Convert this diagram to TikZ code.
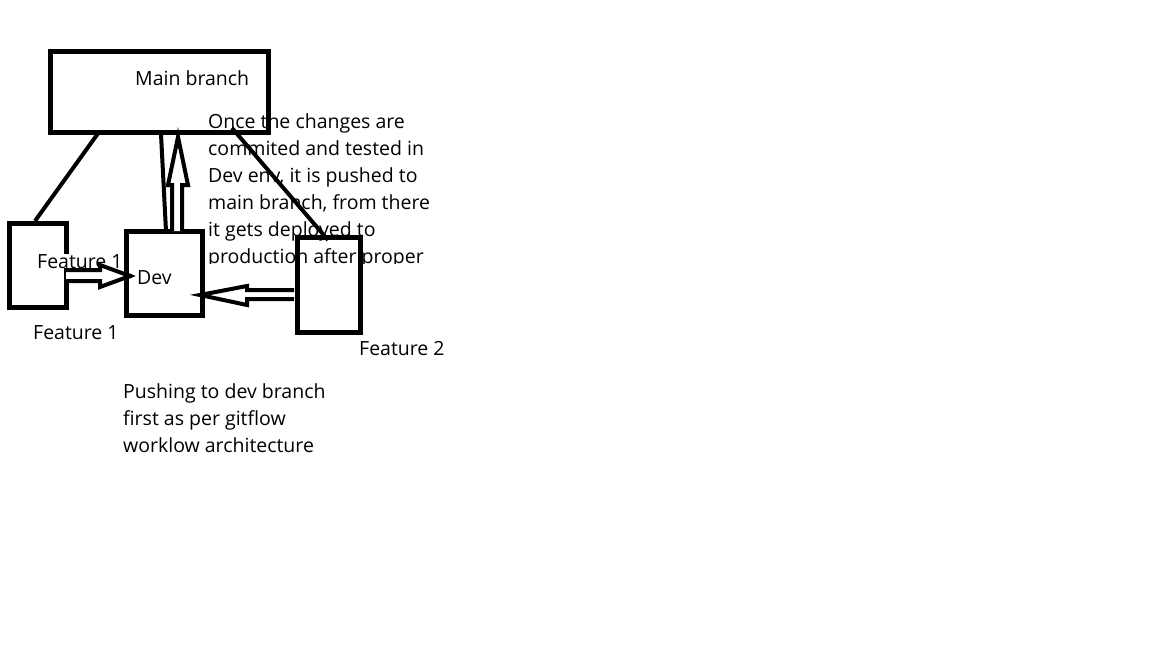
\documentclass[tikz,border=0pt]{standalone}
\usepackage{fontspec}
\setmainfont{Open Sans}
\begin{document}
\begin{tikzpicture}[x=1pt,y=-1pt,
  box/.style={draw,line width=5pt},
  link/.style={line width=4pt},
  hollow/.style={draw,line width=4pt,line join=miter,fill=white},
  txt/.style={anchor=base west,inner sep=0pt,font=\fontsize{19.5}{27}\selectfont}]
\useasboundingbox[fill=white] (0,0) rectangle (1152,648);
% boxes
\draw[box] (50,51) rectangle (268,132);
\node[txt] (mainlbl) at (135,85) {Main branch};
\coordinate (mainbl) at (99,132);
\coordinate (mainbr) at (232,128);
% paragraph (clipped)
\begin{scope}
\clip (200,100) rectangle (450,263);
\foreach \t [count=\i] in {Once the changes are,commited and tested in,{Dev env, it is pushed to},{main branch, from there},it gets deployed to,production after proper}
  \node[txt,name=p\i] at (208,101+27*\i) {\t};
\end{scope}
\draw[box] (9,223) rectangle (66,307);
\draw[box] (126,231) rectangle (202,315);
\draw[box] (297,237) rectangle (360,332);
\coordinate (f1top) at (35,221);
\coordinate (f2top) at (328,240);
\draw[link] (mainbl) -- (f1top);
\draw[link] (mainbr) -- (f2top);
% dev -> main
\coordinate (devtopl) at (166,231);
\coordinate (mainb1) at (161,134);
\draw[link] (devtopl) -- (mainb1);
\draw[hollow] (172,231) -- (172,185) -- (168,185) -- (178,137) -- (188,185) -- (182,185) -- (182,231);
% feature1 label
\node[txt,fill=white] (f1in) at (37,268) {Feature 1};
% feature1 -> dev
\draw[hollow] (66,270) -- (100,270) -- (100,265) -- (130,276) -- (100,287) -- (100,281) -- (66,281);
\fill (130,276) circle (2.5);
% feature2 -> dev
\draw[hollow] (294,290) -- (247,290) -- (247,286) -- (200,295) -- (247,305) -- (247,299) -- (294,299);
\node[txt] (dev) at (137,284) {Dev};
\node[txt] (f1) at (33,339) {Feature 1};
\node[txt] (f2) at (359,355) {Feature 2};
\node[txt] (q1) at (123,398) {Pushing to dev branch};
\node[txt] (q2) at (123,425) {first as per gitflow};
\node[txt] (q3) at (123,452) {worklow architecture};
\end{tikzpicture}
\end{document}
